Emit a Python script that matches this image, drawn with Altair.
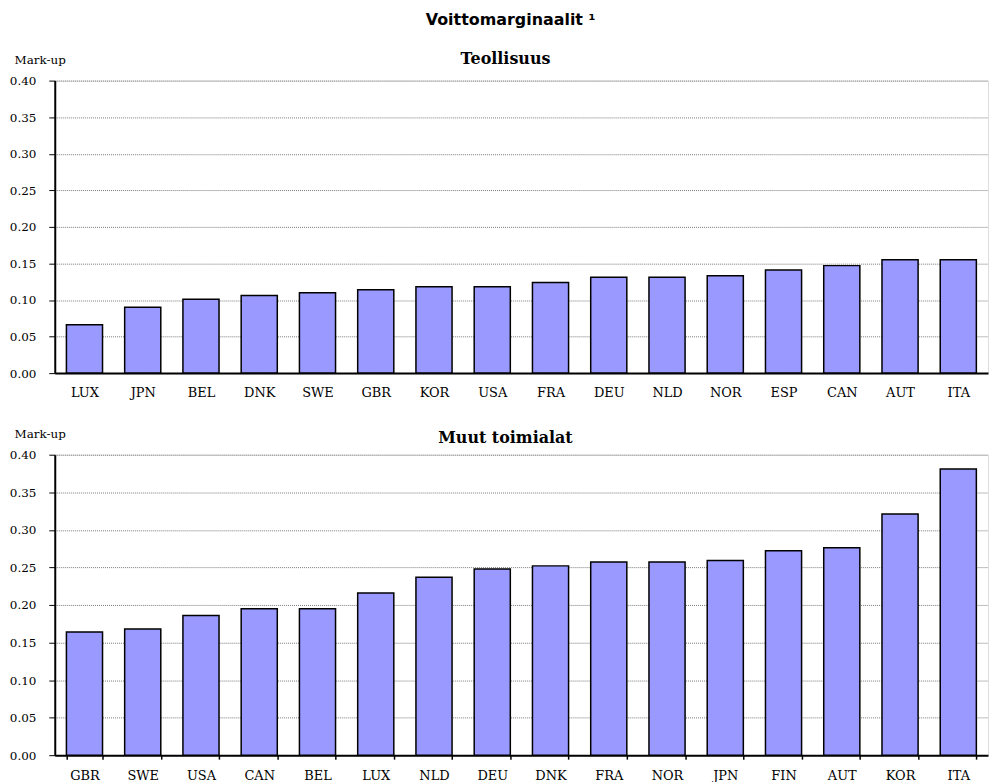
import altair as alt
import pandas as pd

# --- data -------------------------------------------------------------------
top_countries = ["LUX", "JPN", "BEL", "DNK", "SWE", "GBR", "KOR", "USA",
                 "FRA", "DEU", "NLD", "NOR", "ESP", "CAN", "AUT", "ITA"]
top_values = [0.066, 0.090, 0.101, 0.106, 0.110, 0.114, 0.118, 0.118,
              0.124, 0.131, 0.131, 0.133, 0.141, 0.147, 0.155, 0.155]

bottom_countries = ["GBR", "SWE", "USA", "CAN", "BEL", "LUX", "NLD", "DEU",
                    "DNK", "FRA", "NOR", "JPN", "FIN", "AUT", "KOR", "ITA"]
bottom_values = [0.164, 0.168, 0.186, 0.195, 0.195, 0.216, 0.237, 0.248,
                 0.252, 0.257, 0.257, 0.259, 0.272, 0.276, 0.321, 0.381]

y_ticks = [0.0, 0.05, 0.10, 0.15, 0.20, 0.25, 0.30, 0.35, 0.40]

main_title = "Voittomarginaalit ¹"
top_title = "Teollisuus"
bottom_title = "Muut toimialat"
y_title = "Mark-up"

SERIF = "DejaVu Serif"
SANS = "DejaVu Sans"
PLOT_W = 938


def panel(countries, values, title, height, title_y, show_ticks, label_pad):
    df = pd.DataFrame({"country": countries, "value": values})
    y_axis = alt.Axis(
        values=y_ticks, format=".2f", title=y_title,
        titleAngle=0, titleAlign="left", titleBaseline="alphabetic",
        titleX=-41, titleY=-17, titleFont=SERIF, titleFontSize=12,
        titleFontWeight="normal", titleColor="black",
        labelFont=SERIF, labelFontSize=12, labelColor="black", labelPadding=13,
        tickSize=6, tickColor="black", tickWidth=1,
        domainColor="black", domainWidth=2,
        grid=True, gridColor="#7a7a7a", gridDash=[1, 1], gridWidth=1,
    )
    x_axis = alt.Axis(
        title=None, labelAngle=0, labelFont=SERIF, labelFontSize=13,
        labelColor="black", labelPadding=label_pad,
        domainColor="black", domainWidth=2,
        ticks=show_ticks, tickBand="extent", tickSize=4, tickColor="black",
        tickWidth=1.5, grid=False,
    )
    bars = alt.Chart(df).mark_bar(
        fill="#9999FF", stroke="black", strokeWidth=1.5
    ).encode(
        x=alt.X("country:N", sort=countries,
                scale=alt.Scale(paddingInner=0.38, paddingOuter=0.2),
                axis=x_axis),
        y=alt.Y("value:Q", scale=alt.Scale(domain=[0, 0.4], nice=False),
                axis=y_axis),
        tooltip=["country", "value"],
    )
    label = alt.Chart(pd.DataFrame({"label": [title]})).mark_text(
        font=SERIF, fontSize=16, fontWeight="bold", color="black",
        align="center", baseline="alphabetic",
    ).encode(
        text="label:N",
        x=alt.value(PLOT_W / 2 - 16),
        y=alt.value(title_y),
    )
    return alt.layer(bars, label).properties(width=PLOT_W, height=height)


top = panel(top_countries, top_values, top_title, 294, -17, False, 14)
bottom = panel(bottom_countries, bottom_values, bottom_title, 302, -12, True, 10)

chart = alt.vconcat(
    top, bottom, spacing=26,
    title=alt.TitleParams(main_title, font=SANS, fontSize=16, fontWeight="bold",
                          color="black", anchor="middle", offset=22, dx=12),
).properties(
    padding={"left": 0, "top": 2, "right": 0, "bottom": 0},
).configure_view(
    stroke="#9a9a9a", strokeWidth=1
).configure(background="white")

chart.save("out.html", embed_options={"renderer": "svg", "actions": False})
